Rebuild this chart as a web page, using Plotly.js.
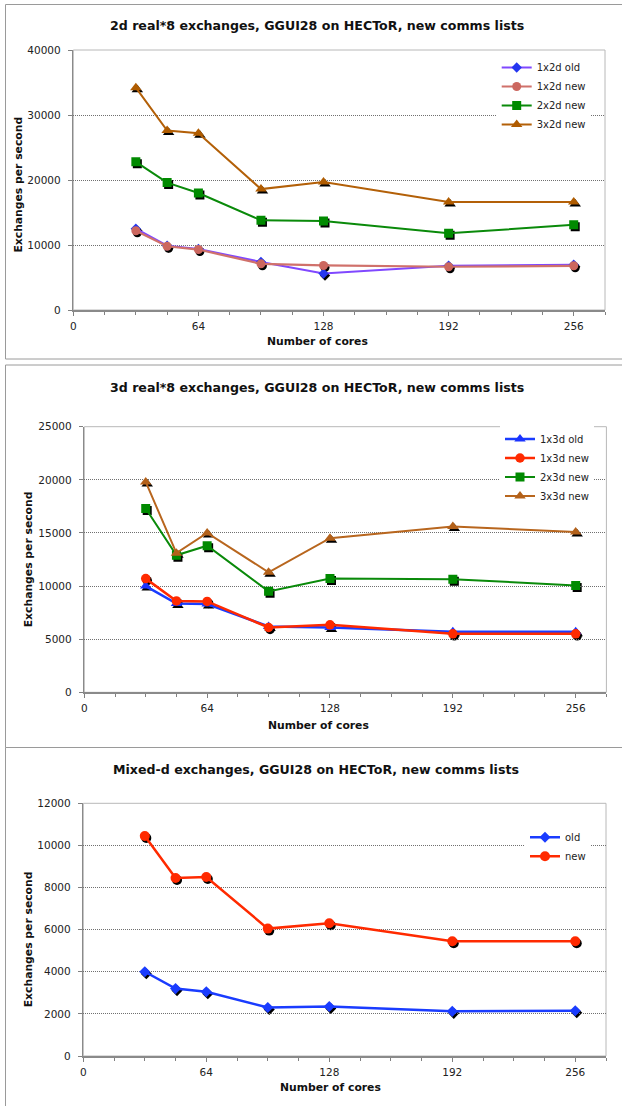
<!DOCTYPE html>
<html>
<head>
<meta charset="utf-8">
<script src="https://cdn.plot.ly/plotly-3.0.1.min.js"></script>
<style>html,body{margin:0;padding:0;background:#fff;}#chart{width:622px;height:1106px;}</style>
</head>
<body>
<div id="chart"></div>
<script>
// ---- data ----
var cores = [32, 48, 64, 96, 128, 192, 256];

var p1Names = ['1x2d old', '1x2d new', '2x2d new', '3x2d new'];
var p1_1x2d_old = [12500, 9900, 9400, 7400, 5600, 6800, 6950];
var p1_1x2d_new = [12200, 9800, 9300, 7100, 6850, 6650, 6800];
var p1_2x2d_new = [22800, 19600, 18000, 13800, 13700, 11800, 13100];
var p1_3x2d_new = [34200, 27600, 27200, 18600, 19700, 16600, 16600];

var p2Names = ['1x3d old', '1x3d new', '2x3d new', '3x3d new'];
var p2_1x3d_old = [10000, 8350, 8300, 6200, 6100, 5700, 5700];
var p2_1x3d_new = [10700, 8600, 8550, 6100, 6350, 5500, 5500];
var p2_2x3d_new = [17300, 12900, 13800, 9500, 10700, 10650, 10050];
var p2_3x3d_new = [19800, 13100, 15000, 11300, 14500, 15600, 15100];

var p3Names = ['old', 'new'];
var p3_old = [4000, 3200, 3050, 2300, 2350, 2120, 2150];
var p3_new = [10450, 8450, 8500, 6050, 6300, 5450, 5450];

var titles = [
  '2d real*8 exchanges, GGUI28 on HECToR, new comms lists',
  '3d real*8 exchanges, GGUI28 on HECToR, new comms lists',
  'Mixed-d exchanges, GGUI28 on HECToR, new comms lists'
];
var xTitle = 'Number of cores';
var yTitle = 'Exchanges per second';

// ---- layout helpers ----
var W = 622, H = 1106;
function px(x){ return x / W; }
function py(y){ return 1 - y / H; }
var FONT = 'DejaVu Sans, Verdana, sans-serif';
var SHX = 1.5 / W, SHY = 2 / H;  // marker shadow offset

// panel plot areas in pixels [left, right, top, bottom]
var areas = [
  [73.3, 605, 50, 310],
  [84.3, 606.4, 426.7, 692.3],
  [83.3, 606, 803.3, 1056]
];
var yMax = [40000, 25000, 12000];
var yD = [10000, 5000, 2000];

var layout = {
  width: W, height: H,
  margin: {l: 0, r: 0, t: 0, b: 0},
  paper_bgcolor: '#ffffff',
  plot_bgcolor: 'rgba(0,0,0,0)',
  font: {family: FONT, color: '#111'},
  showlegend: true,
  shapes: [], annotations: []
};

// panel frames
var frames = [[5.5, 4.5, 359], [5.5, 365, 747.5], [5.5, 747.5, 1110]];
frames.forEach(function(f){
  layout.shapes.push({type: 'rect', xref: 'paper', yref: 'paper', layer: 'below',
    x0: px(f[0]), x1: 1.05, y0: py(f[2]), y1: py(f[1]),
    line: {color: '#9a9a9a', width: 1}, fillcolor: '#ffffff'});
});

for (var i = 0; i < 3; i++) {
  var a = areas[i];
  var xd = [px(a[0]), px(a[1])];
  var yd = [py(a[3]), py(a[2])];
  var sIdx = i + 1, vIdx = i + 4;
  // shadow axes (drawn first, below)
  layout['xaxis' + (sIdx === 1 ? '' : sIdx)] = {
    domain: [xd[0] + SHX, xd[1] + SHX], range: [0, 272], anchor: 'y' + (sIdx === 1 ? '' : sIdx),
    visible: false, fixedrange: true
  };
  layout['yaxis' + (sIdx === 1 ? '' : sIdx)] = {
    domain: [yd[0] - SHY, yd[1] - SHY], range: [0, yMax[i]], anchor: 'x' + (sIdx === 1 ? '' : sIdx),
    visible: false, fixedrange: true
  };
  // visible axes
  layout['xaxis' + vIdx] = {
    domain: xd, range: [0, 272], anchor: 'y' + vIdx,
    tick0: 0, dtick: 64, tickformat: 'd',
    ticks: 'outside', ticklen: 4, tickcolor: '#808080', tickwidth: 1,
    ticklabelstandoff: 2,
    minor: {dtick: 16, tick0: 0, ticks: 'outside', ticklen: 3, tickcolor: '#808080', showgrid: false},
    showline: true, linecolor: '#8a8a8a', linewidth: 1.5,
    showgrid: false, zeroline: false,
    tickfont: {family: FONT, size: 10.5, color: '#222'}, fixedrange: true
  };
  layout['yaxis' + vIdx] = {
    domain: yd, range: [0, yMax[i]], anchor: 'x' + vIdx,
    tick0: 0, dtick: yD[i], tickformat: 'd',
    ticks: 'outside', ticklen: 4, tickcolor: '#808080', tickwidth: 1,
    ticklabelstandoff: 5,
    showline: true, linecolor: '#8a8a8a', linewidth: 1.5,
    showgrid: true, gridcolor: '#707070', gridwidth: 1, griddash: '1px,1px',
    zeroline: false,
    tickfont: {family: FONT, size: 10.5, color: '#222'}, fixedrange: true
  };
  // plot area border (top/right light line)
  layout.shapes.push({type: 'rect', xref: 'x' + vIdx + ' domain', yref: 'y' + vIdx + ' domain',
    x0: 0, x1: 1, y0: 0, y1: 1, line: {color: '#b8b8b8', width: 1}, layer: 'below'});
}

// titles
var titlePos = [[316.5, 26], [316.5, 387.7], [316, 769.3]];
var xtPos = [[317, 341.7], [318.5, 725.3], [330, 1087.7]];
var ytPos = [[18.6, 185], [28.6, 559.7], [28.6, 939.7]];
for (var k = 0; k < 3; k++) {
  layout.annotations.push({text: '<b>' + titles[k] + '</b>', xref: 'paper', yref: 'paper',
    x: px(titlePos[k][0]), y: py(titlePos[k][1]), xanchor: 'center', yanchor: 'middle',
    showarrow: false, font: {family: FONT, size: 12.6, color: '#111'}});
  layout.annotations.push({text: '<b>' + xTitle + '</b>', xref: 'paper', yref: 'paper',
    x: px(xtPos[k][0]), y: py(xtPos[k][1]), xanchor: 'center', yanchor: 'middle',
    showarrow: false, font: {family: FONT, size: 10.8, color: '#111'}});
  layout.annotations.push({text: '<b>' + yTitle + '</b>', xref: 'paper', yref: 'paper',
    x: px(ytPos[k][0]), y: py(ytPos[k][1]), xanchor: 'center', yanchor: 'middle', textangle: -90,
    showarrow: false, font: {family: FONT, size: 10.8, color: '#111'}});
}

// legends
var legPos = [[496.7, 96], [500, 467.5], [525, 846.8]];
['legend', 'legend2', 'legend3'].forEach(function(name, j){
  layout[name] = {x: px(legPos[j][0]), y: py(legPos[j][1]), xanchor: 'left', yanchor: 'middle',
    xref: 'paper', yref: 'paper',
    bgcolor: '#ffffff', borderwidth: 0, font: {family: FONT, size: 10, color: '#222'},
    traceorder: 'normal', itemclick: false, itemdoubleclick: false};
});

// traces
var traces = [];
function addSeries(panel, name, yv, color, lineColor, symbol, size, width) {
  var s = panel + 1, v = panel + 4;
  var sx = 'x' + (s === 1 ? '' : s), sy = 'y' + (s === 1 ? '' : s);
  traces.push({x: cores, y: yv, xaxis: sx, yaxis: sy, type: 'scatter', mode: 'markers',
    marker: {symbol: symbol, size: size, color: '#000000', line: {width: 0}},
    showlegend: false, hoverinfo: 'skip'});
  traces.push({x: cores, y: yv, xaxis: 'x' + v, yaxis: 'y' + v, type: 'scatter', mode: 'lines+markers',
    name: name, legend: ['legend', 'legend2', 'legend3'][panel],
    line: {color: lineColor, width: width},
    marker: {symbol: symbol, size: size, color: color, line: {width: 0}}});
}
var specs = [
  [0, p1Names[0], p1_1x2d_old, '#2436f0', '#8048ff', 'diamond', 8, 2],
  [0, p1Names[1], p1_1x2d_new, '#cc675f', '#d0716b', 'circle', 9, 2.2],
  [0, p1Names[2], p1_2x2d_new, '#008a00', '#0a8a0a', 'square', 9, 2],
  [0, p1Names[3], p1_3x2d_new, '#b05c00', '#b36008', 'triangle-up', 10, 2],
  [1, p2Names[0], p2_1x3d_old, '#1a33ff', '#1a3cff', 'triangle-up', 10, 2.5],
  [1, p2Names[1], p2_1x3d_new, '#ff2a00', '#ff2a00', 'circle', 9.5, 2.5],
  [1, p2Names[2], p2_2x3d_new, '#008a00', '#0a8a0a', 'square', 9, 2],
  [1, p2Names[3], p2_3x3d_new, '#b3611a', '#b8661e', 'triangle-up', 10, 2],
  [2, p3Names[0], p3_old, '#1a3cff', '#1a3cff', 'diamond', 8.5, 2.5],
  [2, p3Names[1], p3_new, '#ff2a00', '#ff2a00', 'circle', 10, 2.5]
];
specs.forEach(function(sp){ addSeries.apply(null, sp); });
// shadows drawn below all coloured series
var shadows = traces.filter(function(t){ return t.showlegend === false; });
var coloured = traces.filter(function(t){ return t.showlegend !== false; });

Plotly.newPlot('chart', shadows.concat(coloured), layout, {staticPlot: true, displayModeBar: false});
</script>
</body>
</html>
